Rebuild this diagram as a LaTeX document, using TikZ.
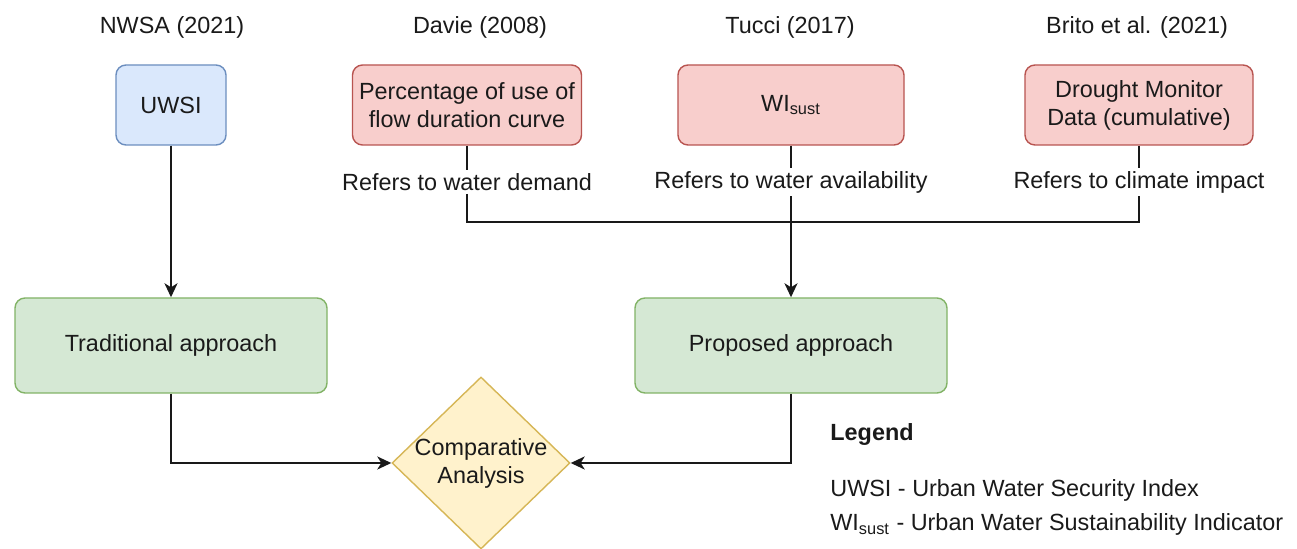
\documentclass[tikz,border=0pt]{standalone}
\usepackage{fontspec}
\setmainfont{Liberation Sans}
\usetikzlibrary{shapes.geometric,arrows.meta}
\definecolor{bfill}{HTML}{DAE8FC}\definecolor{bdraw}{HTML}{6C8EBF}
\definecolor{rfill}{HTML}{F8CECC}\definecolor{rdraw}{HTML}{B85450}
\definecolor{gfill}{HTML}{D5E8D4}\definecolor{gdraw}{HTML}{82B366}
\definecolor{yfill}{HTML}{FFF2CC}\definecolor{ydraw}{HTML}{D6B656}
\definecolor{txt}{HTML}{1A1A1A}
\begin{document}
\begin{tikzpicture}[x=0.5pt,y=-0.5pt,
  font=\fontsize{11.7}{14}\selectfont, text=txt,
  box/.style={rounded corners=5pt, line width=0.7pt, align=center, inner sep=0pt},
  bluebox/.style={box, fill=bfill, draw=bdraw},
  redbox/.style={box, fill=rfill, draw=rdraw},
  greenbox/.style={box, fill=gfill, draw=gdraw},
  conn/.style={line width=1pt, draw=black!90},
  arr/.style={conn, -{Stealth[length=7pt,width=6.5pt,inset=2pt]}},
  lbl/.style={fill=white, inner sep=1.5pt},
  hdr/.style={inner sep=0pt}]
\fill[white] (0,0) rectangle (1297,549);
\useasboundingbox (0,0) rectangle (1297,549);

% headers
\node[hdr] (h1) at (172,27) {NWSA (2021)};
\node[hdr] (h2) at (480,27) {Davie (2008)};
\node[hdr] (h3) at (790,27) {Tucci (2017)};
\node[hdr] (h4) at (1137,27) {Brito et al. (2021)};

% top boxes
\node[bluebox, minimum width=55pt, minimum height=40pt] (uwsi) at (171,105) {UWSI};
\node[redbox, minimum width=114.5pt, minimum height=40pt] (pct) at (467,105) {Percentage of use of\\flow duration curve};
\node[redbox, minimum width=113pt, minimum height=40pt] (wi) at (791,105) {WI\textsubscript{sust}};
\node[redbox, minimum width=114pt, minimum height=40pt] (dm) at (1139,105) {Drought Monitor\\Data (cumulative)};

% labels
\node[lbl] (l1) at (467,182) {Refers to water demand};
\node[lbl] (l2) at (791,182) {Refers to water availability};
\node[lbl] (l3) at (1139,182) {Refers to climate impact};

% approaches
\node[greenbox, minimum width=156pt, minimum height=47.5pt] (trad) at (171,345.5) {Traditional approach};
\node[greenbox, minimum width=156pt, minimum height=47.5pt] (prop) at (791,345.5) {Proposed approach};

% diamond
\node[diamond, draw=ydraw, fill=yfill, line width=0.7pt, inner sep=0pt,
      minimum width=89pt, minimum height=86pt] (cmp) at (481,463) {};
\node[align=center, inner sep=0pt] (cmpt) at (cmp.center) {Comparative\\Analysis};

\coordinate (j) at (791,222);

% connectors
\draw[arr] (uwsi) -- (trad);
\draw[conn] (pct) -- (l1);
\draw[conn] (wi) -- (l2);
\draw[conn] (dm) -- (l3);
\draw[conn] (l1) |- (j);
\draw[conn] (l3) |- (j);
\draw[arr] (l2) -- (prop);
\draw[arr] (trad) |- (cmp);
\draw[arr] (prop) |- (cmp);

% legend
\node[anchor=base west, inner sep=0pt, font=\fontsize{11.7}{14}\selectfont\bfseries] (lg) at (830,441) {Legend};
\node[anchor=base west, inner sep=0pt] (lg1) at (830,497) {UWSI - Urban Water Security Index};
\node[anchor=base west, inner sep=0pt] (lg2) at (830,531) {WI\textsubscript{sust} - Urban Water Sustainability Indicator};
\end{tikzpicture}
\end{document}
